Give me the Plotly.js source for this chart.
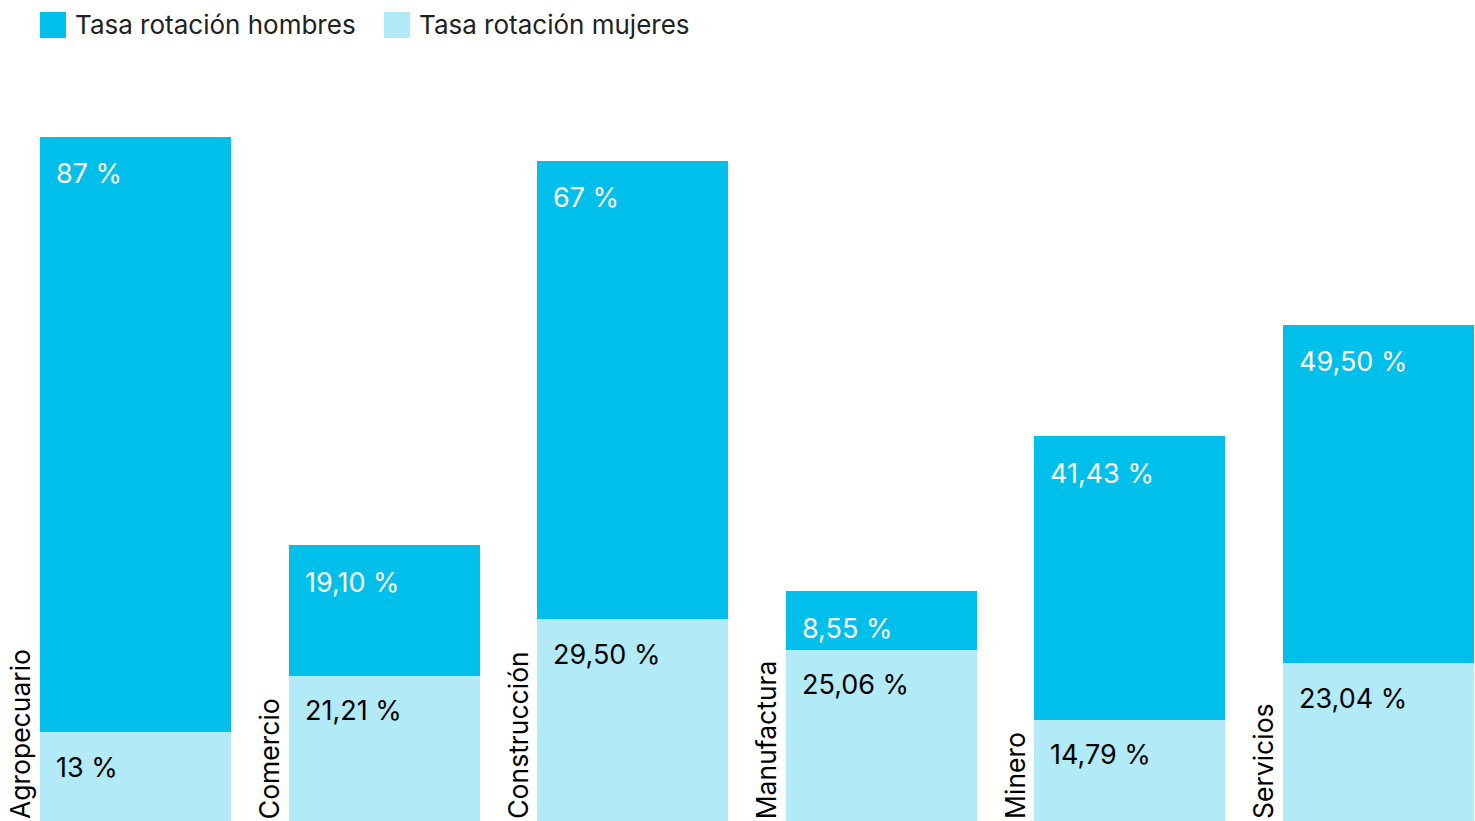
<!DOCTYPE html>
<html><head><meta charset="utf-8">
<script src="https://cdn.plot.ly/plotly-3.0.1.min.js"></script>
<style>html,body{margin:0;padding:0;background:#fff;}#chart{width:1475px;height:821px;}</style>
</head><body><div id="chart"></div>
<script>
const categories = ["Agropecuario","Comercio","Construcción","Manufactura","Minero","Servicios"];
const mujeres = [13, 21.21, 29.50, 25.06, 14.79, 23.04];
const hombres = [87, 19.10, 67, 8.55, 41.43, 49.50];
const mujeresLabels = ["13 %","21,21 %","29,50 %","25,06 %","14,79 %","23,04 %"];
const hombresLabels = ["87 %","19,10 %","67 %","8,55 %","41,43 %","49,50 %"];
const seriesNames = ["Tasa rotación hombres","Tasa rotación mujeres"];

const C_DARK = "#00BFEA", C_LIGHT = "#B2EBF7";
const W = 1475, H = 821;
const FONT = "Inter, 'Noto Sans', sans-serif";
const BW = 0.768;
const xs = categories.map((c,i)=>i);

const traces = [
  {type:"bar", x:xs, y:mujeres, name:seriesNames[1], marker:{color:C_LIGHT, line:{width:0}}, width:BW, hoverinfo:"skip"},
  {type:"bar", x:xs, y:hombres, name:seriesNames[0], marker:{color:C_DARK, line:{width:0}}, width:BW, hoverinfo:"skip"}
];

const annotations = [];
categories.forEach((c,i)=>{
  annotations.push({x:i-BW/2, y:0, xref:"x", yref:"y", text:c, textangle:-90, showarrow:false,
    xanchor:"center", yanchor:"bottom", xshift:-20, yshift:0, font:{family:FONT, size:26.5, color:"#000"}});
  annotations.push({x:i-BW/2, y:mujeres[i], xref:"x", yref:"y", text:mujeresLabels[i], showarrow:false,
    xanchor:"left", yanchor:"middle", xshift:14, yshift:-35, font:{family:FONT, size:27, color:"#000"}});
  annotations.push({x:i-BW/2, y:mujeres[i]+hombres[i], xref:"x", yref:"y", text:hombresLabels[i], showarrow:false,
    xanchor:"left", yanchor:"middle", xshift:14, yshift:-37, font:{family:FONT, size:27, color:"#fff"}});
});

// custom legend
const shapes = [];
const legendItems = [{name:seriesNames[0], color:C_DARK, px:40},{name:seriesNames[1], color:C_LIGHT, px:384}];
legendItems.forEach(it=>{
  shapes.push({type:"rect", xref:"paper", yref:"paper", x0:it.px/W, x1:(it.px+26)/W, y0:1-38/H, y1:1-12/H,
    fillcolor:it.color, line:{width:0}});
  annotations.push({xref:"paper", yref:"paper", x:(it.px+33)/W, y:1-25/H, text:it.name, showarrow:false,
    xanchor:"left", yanchor:"middle", font:{family:FONT, size:26, color:"#222"}});
});

const layout = {
  width:W, height:H, barmode:"stack", showlegend:false,
  margin:{l:0,r:0,t:0,b:0}, paper_bgcolor:"#fff", plot_bgcolor:"#fff",
  xaxis:{range:[-0.545,5.388], showgrid:false, zeroline:false, showticklabels:false, showline:false, fixedrange:true},
  yaxis:{range:[0,120], showgrid:false, zeroline:false, showticklabels:false, showline:false, fixedrange:true},
  annotations:annotations, shapes:shapes
};
Plotly.newPlot("chart", traces, layout, {displayModeBar:false, staticPlot:true});
</script></body></html>
